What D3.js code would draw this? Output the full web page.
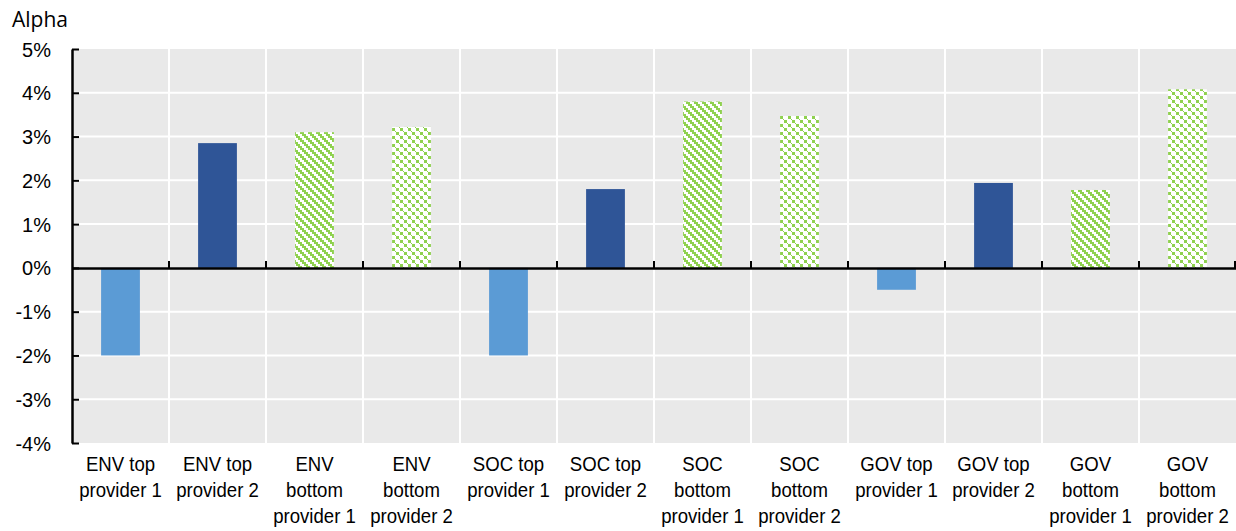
<!DOCTYPE html>
<html>
<head>
<meta charset="utf-8">
<script src="https://cdn.jsdelivr.net/npm/d3@7"></script>
<style>
  body { margin: 0; background: #fff; }
  svg text { font-family: "Liberation Sans", Arial, sans-serif; fill: #000; }
</style>
</head>
<body>
<svg id="chart" width="1236" height="531"></svg>
<script>
// chart data
var categories = [
  ["ENV top", "provider 1"], ["ENV top", "provider 2"],
  ["ENV", "bottom", "provider 1"], ["ENV", "bottom", "provider 2"],
  ["SOC top", "provider 1"], ["SOC top", "provider 2"],
  ["SOC", "bottom", "provider 1"], ["SOC", "bottom", "provider 2"],
  ["GOV top", "provider 1"], ["GOV top", "provider 2"],
  ["GOV", "bottom", "provider 1"], ["GOV", "bottom", "provider 2"]
];
var alphaValues = [-0.020, 0.0285, 0.031, 0.0322, -0.020, 0.018, 0.038, 0.0347, -0.005, 0.0194, 0.0178, 0.0408];
// which fill each bar uses
var barKinds = ["top1", "top2", "bot1", "bot2", "top1", "top2", "bot1", "bot2", "top1", "top2", "bot1", "bot2"];
var yTicks = [-0.04, -0.03, -0.02, -0.01, 0, 0.01, 0.02, 0.03, 0.04, 0.05];

var green = "#8fd14f";
var fills = {
  top1: "#5b9bd5",
  top2: "#2f5597",
  bot1: "url(#stripes)",
  bot2: "url(#checks)"
};

// plot box (window.top is taken, so prefix)
var plotL = 72, plotR = 1236, plotT = 49, plotB = 443;

var svg = d3.select("#chart");

// patterns for the "bottom" bars
var defs = svg.append("defs");
var stripes = defs.append("pattern")
  .attr("id", "stripes")
  .attr("patternUnits", "userSpaceOnUse")
  .attr("width", 8).attr("height", 8);
stripes.append("rect").attr("width", 8).attr("height", 8).attr("fill", "#fff");
d3.range(4).forEach(function (r) {
  [r, r + 1].forEach(function (c) {
    stripes.append("rect")
      .attr("x", (c % 4) * 2).attr("y", r * 2)
      .attr("width", 2).attr("height", 2)
      .attr("fill", green);
  });
});

var checks = defs.append("pattern")
  .attr("id", "checks")
  .attr("patternUnits", "userSpaceOnUse")
  .attr("width", 8).attr("height", 8);
checks.append("rect").attr("width", 8).attr("height", 8).attr("fill", "#fff");
[[0, 0, 3], [4, 4, 3], [3, 3, 1], [7, 7, 1]].forEach(function (s) {
  checks.append("rect")
    .attr("x", s[0]).attr("y", s[1])
    .attr("width", s[2]).attr("height", s[2])
    .attr("fill", green);
});

var x = d3.scaleBand()
  .domain(d3.range(categories.length))
  .range([plotL, plotR])
  .padding(0);

var y = d3.scaleLinear()
  .domain([-0.04, 0.05])
  .range([plotB, plotT]);

// plot background
svg.append("rect")
  .attr("x", plotL).attr("y", plotT)
  .attr("width", plotR - plotL).attr("height", plotB - plotT)
  .attr("fill", "#e9e9e9");

// horizontal gridlines
svg.append("g")
  .selectAll("line")
  .data(yTicks.filter(function (d) { return d > -0.04 && d < 0.05; }))
  .join("line")
  .attr("x1", plotL).attr("x2", plotR)
  .attr("y1", function (d) { return y(d); })
  .attr("y2", function (d) { return y(d); })
  .attr("stroke", "#fff")
  .attr("stroke-width", 2);

// vertical gridlines between categories
svg.append("g")
  .selectAll("line")
  .data(d3.range(1, categories.length))
  .join("line")
  .attr("x1", function (i) { return x(i); })
  .attr("x2", function (i) { return x(i); })
  .attr("y1", plotT).attr("y2", plotB)
  .attr("stroke", "#fff")
  .attr("stroke-width", 2);

// bars
var barW = x.bandwidth() * 0.4;
svg.append("g")
  .selectAll("rect")
  .data(alphaValues)
  .join("rect")
  .attr("x", function (d, i) { return x(i) + (x.bandwidth() - barW) / 2; })
  .attr("y", function (d) { return y(Math.max(0, d)); })
  .attr("width", barW)
  .attr("height", function (d) { return Math.abs(y(d) - y(0)); })
  .attr("fill", function (d, i) { return fills[barKinds[i]]; });

// zero line with small ticks
var xAxis = svg.append("g")
  .attr("transform", "translate(0," + y(0) + ")")
  .call(d3.axisTop(x).tickValues([]).tickSizeOuter(0));
xAxis.select(".domain").attr("stroke", "#000").attr("stroke-width", 2.5);
xAxis.selectAll("line.sep")
  .data(d3.range(1, categories.length + 1))
  .join("line")
  .attr("class", "sep")
  .attr("x1", function (i) { return i < categories.length ? x(i) : plotR - 1; })
  .attr("x2", function (i) { return i < categories.length ? x(i) : plotR - 1; })
  .attr("y1", 0).attr("y2", -7)
  .attr("stroke", "#000")
  .attr("stroke-width", 2);

// y axis, plain hyphen for negatives like the original
var pct = d3.format(".0%");
var yAxis = svg.append("g")
  .attr("transform", "translate(" + plotL + ",0)")
  .call(d3.axisRight(y).tickValues(yTicks).tickSize(7).tickSizeOuter(0)
    .tickFormat(function (d) { return pct(d).replace("\u2212", "-"); }));
yAxis.select(".domain").attr("stroke", "#000").attr("stroke-width", 2.5);
yAxis.selectAll(".tick line").attr("stroke", "#000").attr("stroke-width", 2);
yAxis.selectAll(".tick text")
  .attr("x", -21)
  .attr("dy", "0.35em")
  .attr("text-anchor", "end")
  .style("font-size", "20px")
  .style("font-family", "'Liberation Sans', Arial, sans-serif");

// category labels, squeezed a bit to look like the narrow original font
var labels = svg.append("g")
  .selectAll("text")
  .data(categories)
  .join("text")
  .attr("text-anchor", "middle")
  .attr("transform", function (d, i) { return "translate(" + (x(i) + x.bandwidth() / 2) + ",471) scale(0.93,1)"; })
  .style("font-size", "20px");
labels.selectAll("tspan")
  .data(function (d) { return d; })
  .join("tspan")
  .attr("x", 0)
  .attr("y", function (d, i) { return i * 26; })
  .text(function (d) { return d; });

// axis title
svg.append("text")
  .attr("x", 12).attr("y", 27)
  .style("font-family", "'Open Sans', sans-serif")
  .style("font-size", "21px")
  .text("Alpha");
</script>
</body>
</html>
